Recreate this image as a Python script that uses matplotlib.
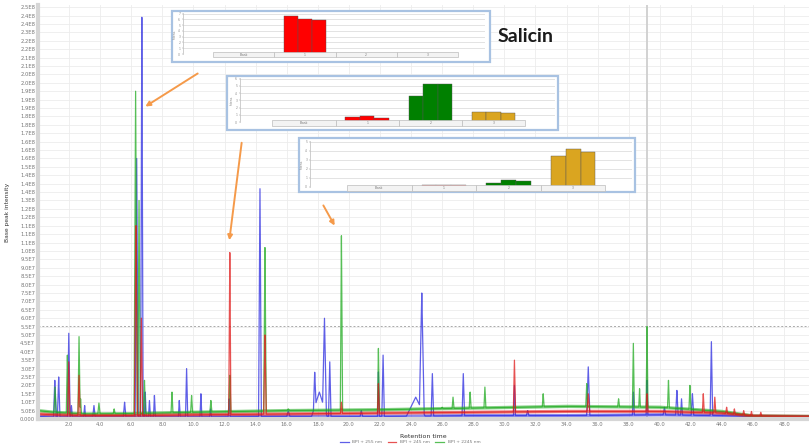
import numpy as np
import matplotlib.pyplot as plt
from matplotlib.patches import Rectangle, FancyArrowPatch
from matplotlib.ticker import FuncFormatter

W, H = 809, 446

# baseline levels (time in min, intensity)
base_t = [0, 1, 3, 6, 10, 16, 22, 28, 34, 40, 44, 46, 49.6]
blue_base = [1.5e6, 1.2e6, 1.2e6, 1.2e6, 1.2e6, 1.5e6, 1.5e6, 2.0e6, 2.0e6, 2.5e6, 2.0e6, 1.5e6, 1.3e6]
red_base = [3.0e6, 2.5e6, 2.0e6, 2.0e6, 2.5e6, 3.0e6, 3.5e6, 4.0e6, 4.5e6, 4.5e6, 3.5e6, 1.8e6, 1.5e6]
green_base = [5.0e6, 4.0e6, 3.0e6, 3.2e6, 4.0e6, 5.0e6, 5.5e6, 6.5e6, 7.5e6, 7.0e6, 4.5e6, 1.8e6, 1.5e6]

# peaks: (retention time, apex intensity, half width)
blue_peaks = [(1.08, 2.3e7, 0.08), (1.33, 2.5e7, 0.08), (1.98, 5.1e7, 0.08), (2.15, 8e6, 0.06),
              (3.0, 8e6, 0.06), (3.6, 8e6, 0.08), (5.57, 1.0e7, 0.08), (6.35, 1.55e8, 0.1),
              (6.68, 2.39e8, 0.08), (6.9, 1.6e7, 0.06), (7.17, 1.1e7, 0.06), (7.49, 1.4e7, 0.06),
              (9.09, 1.1e7, 0.06), (9.56, 3.0e7, 0.07), (10.48, 1.5e7, 0.06), (11.1, 6e6, 0.06),
              (12.3, 1.2e7, 0.07), (14.28, 1.37e8, 0.09), (16.1, 5e6, 0.1), (17.8, 2.2e7, 0.08),
              (18.1, 1.6e7, 0.5), (18.43, 5.5e7, 0.12), (18.77, 3.4e7, 0.08), (20.8, 5e6, 0.08),
              (21.9, 2.8e7, 0.06), (22.2, 3.8e7, 0.08), (24.3, 1.3e7, 0.6), (24.69, 7.1e7, 0.15),
              (25.37, 2.7e7, 0.08), (27.36, 2.7e7, 0.08), (30.65, 2.0e7, 0.06), (31.5, 5e6, 0.08),
              (35.4, 3.1e7, 0.1), (38.3, 1.6e7, 0.06), (39.18, 2.3e7, 0.06), (40.3, 7e6, 0.08),
              (41.1, 1.7e7, 0.08), (41.4, 1.2e7, 0.06), (42.1, 1.5e7, 0.08), (43.32, 4.6e7, 0.08)]
red_peaks = [(1.98, 3.4e7, 0.07), (2.64, 2.6e7, 0.07), (6.3, 1.15e8, 0.1), (6.65, 6e7, 0.08),
             (12.34, 9.9e7, 0.07), (14.6, 5.0e7, 0.08), (19.52, 1.0e7, 0.06), (21.9, 2.1e7, 0.06),
             (30.65, 3.5e7, 0.07), (35.4, 1.5e7, 0.08), (39.18, 1.5e7, 0.06), (42.8, 1.5e7, 0.06),
             (43.54, 1.3e7, 0.06), (44.3, 7e6, 0.06), (44.8, 6e6, 0.06), (45.4, 5e6, 0.06),
             (45.9, 4.5e6, 0.06), (46.5, 4e6, 0.06)]
green_peaks = [(1.1, 1.9e7, 0.07), (1.89, 3.8e7, 0.07), (2.64, 4.9e7, 0.07), (2.74, 1.2e7, 0.05),
               (3.92, 9.5e6, 0.07), (4.9, 6e6, 0.06), (6.28, 1.95e8, 0.1), (6.5, 1.3e8, 0.08),
               (6.85, 2.3e7, 0.07), (8.62, 1.6e7, 0.06), (9.88, 1.4e7, 0.06), (11.12, 1.1e7, 0.06),
               (12.34, 2.6e7, 0.07), (14.6, 1.02e8, 0.08), (16.1, 6e6, 0.08), (19.52, 1.09e8, 0.07),
               (21.9, 4.2e7, 0.06), (26.0, 7e6, 0.06), (26.7, 1.3e7, 0.06), (27.8, 1.6e7, 0.06),
               (28.75, 1.9e7, 0.06), (32.5, 1.5e7, 0.06), (35.3, 2.1e7, 0.06), (37.35, 1.2e7, 0.06),
               (38.3, 4.5e7, 0.06), (38.7, 1.8e7, 0.05), (39.18, 5.5e7, 0.06), (40.56, 2.3e7, 0.06),
               (41.94, 2.0e7, 0.06)]

series_labels = ["BPI + 255 nm", "BPI + 245 nm", "BPI + 2245 nm"]

# inset bar charts: 4 groups x 3 replicates
group_labels = ["Blank", "1", "2", "3"]
inset1_vals = [[0, 0, 0], [6.57, 6.06, 5.89], [0, 0, 0], [0, 0, 0]]
inset2_vals = [[0, 0, 0], [0.64, 0.77, 0.55], [3.6, 5.2, 5.2], [1.45, 1.45, 1.3]]
inset3_vals = [[0, 0, 0], [0.19, 0.17, 0.17], [0.48, 0.81, 0.67], [3.44, 4.19, 3.81]]
group_colors = ["#9a9a9a", "#ff0000", "#008000", "#daa520"]


def fx(x):
    return x / W


def fy(y):
    return 1 - y / H


def build_trace(peaks, base_v):
    t = np.sort(np.concatenate([np.linspace(0, 49.6, 6000), [p[0] for p in peaks]]))
    y = np.interp(t, base_t, base_v)
    for rt, h, w in peaks:
        lift = h - np.interp(rt, base_t, base_v)
        y = y + lift * np.clip(1 - np.abs(t - rt) / w, 0, None)
    return t, y


def sci_fmt(v, pos):
    if v <= 0:
        return "0.000"
    e = int(np.floor(np.log10(v) + 1e-9))
    return f"{v / 10 ** e:.1f}E{e}"


fig = plt.figure(figsize=(W / 100, H / 100), dpi=100)
ax = fig.add_axes([fx(38), fy(419), fx(809 - 38), (419 - 5) / H])

ax.set_xlim(0, 49.6)
ax.set_ylim(0, 2.463e8)
ax.set_yticks(np.arange(0, 2.46e8, 5e6))
ax.yaxis.set_major_formatter(FuncFormatter(sci_fmt))
ax.set_xticks(np.arange(2, 49, 2))
ax.set_xticklabels([f"{t:.1f}" for t in np.arange(2, 49, 2)])
ax.tick_params(labelsize=3.8, colors="#777777", length=0, pad=2)
ax.grid(True, color="#ececec", lw=0.6)
ax.set_axisbelow(True)
for side in ["top", "right"]:
    ax.spines[side].set_visible(False)
for side in ["left", "bottom"]:
    ax.spines[side].set_color("#d6d6d6")
    ax.spines[side].set_linewidth(3)

ax.axhline(5.53e7, color="#aaaaaa", lw=0.7, ls=(0, (2, 2)))
ax.axvline(39.2, color="#cfcfcf", lw=1.3)

for peaks, base_v, col, lab in [(blue_peaks, blue_base, "#2a2ae0", series_labels[0]),
                                (green_peaks, green_base, "#1faa1f", series_labels[2]),
                                (red_peaks, red_base, "#e01818", series_labels[1])]:
    t, y = build_trace(peaks, base_v)
    ax.plot(base_t, base_v, color=col, lw=2.4, alpha=0.55)
    ax.plot(t, y, color=col, lw=0.9, alpha=0.75, label=lab)

ax.set_xlabel("Retention time", fontsize=4.5, color="#333333", labelpad=5)
fig.text(fx(8), fy(212), "Base peak intensity", rotation=90, fontsize=4.3,
         color="#333333", ha="center", va="center")

handles, labels = ax.get_legend_handles_labels()
order = [0, 2, 1]
fig.legend([handles[i] for i in order], [labels[i] for i in order], loc="center",
           bbox_to_anchor=(fx(410), fy(442)), ncol=3, fontsize=3.2, frameon=False,
           handlelength=2, columnspacing=1.2, labelcolor="#777777")

fig.text(fx(498), fy(37), "Salicin", fontsize=14, fontweight="bold",
         family="Lato", color="#1a1a1a", va="center", ha="left")


def add_inset(border, area, vals, ymax, xr):
    bx0, bx1, by0, by1 = border
    fig.add_artist(Rectangle((fx(bx0), fy(by1)), fx(bx1 - bx0), (by1 - by0) / H,
                             transform=fig.transFigure, facecolor="white",
                             edgecolor="#a8c2e2", lw=1.6, zorder=1))
    x0, x1, y0, y1 = area
    ia = fig.add_axes([fx(x0), fy(y1), fx(x1 - x0), (y1 - y0) / H], zorder=2)
    ia.set_xlim(*xr)
    ia.set_ylim(0, ymax)
    ia.set_yticks(np.arange(0, ymax, 1))
    ia.set_yticklabels([str(int(v)) for v in np.arange(0, ymax, 1)])
    ia.tick_params(labelsize=2.2, colors="#888888", length=1, width=0.3, pad=1)
    ia.set_xticks([])
    ia.grid(True, axis="y", color="#d8d8d8", lw=0.5)
    ia.set_axisbelow(True)
    for side in ["top", "right", "bottom"]:
        ia.spines[side].set_visible(False)
    ia.spines["left"].set_color("#bbbbbb")
    ia.spines["left"].set_linewidth(0.5)
    ia.set_ylabel("Intens.", fontsize=2.2, color="#888888", labelpad=1)
    bw = 0.23
    for g, reps in enumerate(vals):
        for r, v in enumerate(reps):
            if v > 0:
                ia.bar(g + (r - 1) * bw, v, width=bw, color=group_colors[g],
                       edgecolor="#555555", lw=0.3, zorder=3)
        ia.add_patch(Rectangle((g - 0.5, -0.08), 1.0, 0.12,
                               transform=ia.get_xaxis_transform(), clip_on=False,
                               facecolor="#f3f3f3", edgecolor="#bdbdbd", lw=0.5, zorder=4))
        ia.text(g, -0.02, group_labels[g], transform=ia.get_xaxis_transform(),
                fontsize=2.2, color="#777777", ha="center", va="center", zorder=5)
    return ia


add_inset((172, 490, 11, 62), (183, 485, 13, 54), inset1_vals, 7.1, (-0.99, 3.94))
add_inset((227, 558, 76, 130), (240, 555, 78, 122), inset2_vals, 6.1, (-1.01, 3.97))
add_inset((299, 635, 138, 192), (310, 632, 141, 187), inset3_vals, 5.07, (-1.07, 3.91))

for (xa, ya), (xb, yb) in [((200, 72), (143, 108)), ((242, 140), (229, 243)),
                           ((322, 203), (336, 228))]:
    fig.add_artist(FancyArrowPatch((fx(xa), fy(ya)), (fx(xb), fy(yb)),
                                   transform=fig.transFigure, arrowstyle="-|>",
                                   mutation_scale=7, color="#f59a4a", lw=1.4, zorder=3))

fig.savefig("out.png", dpi=100)
